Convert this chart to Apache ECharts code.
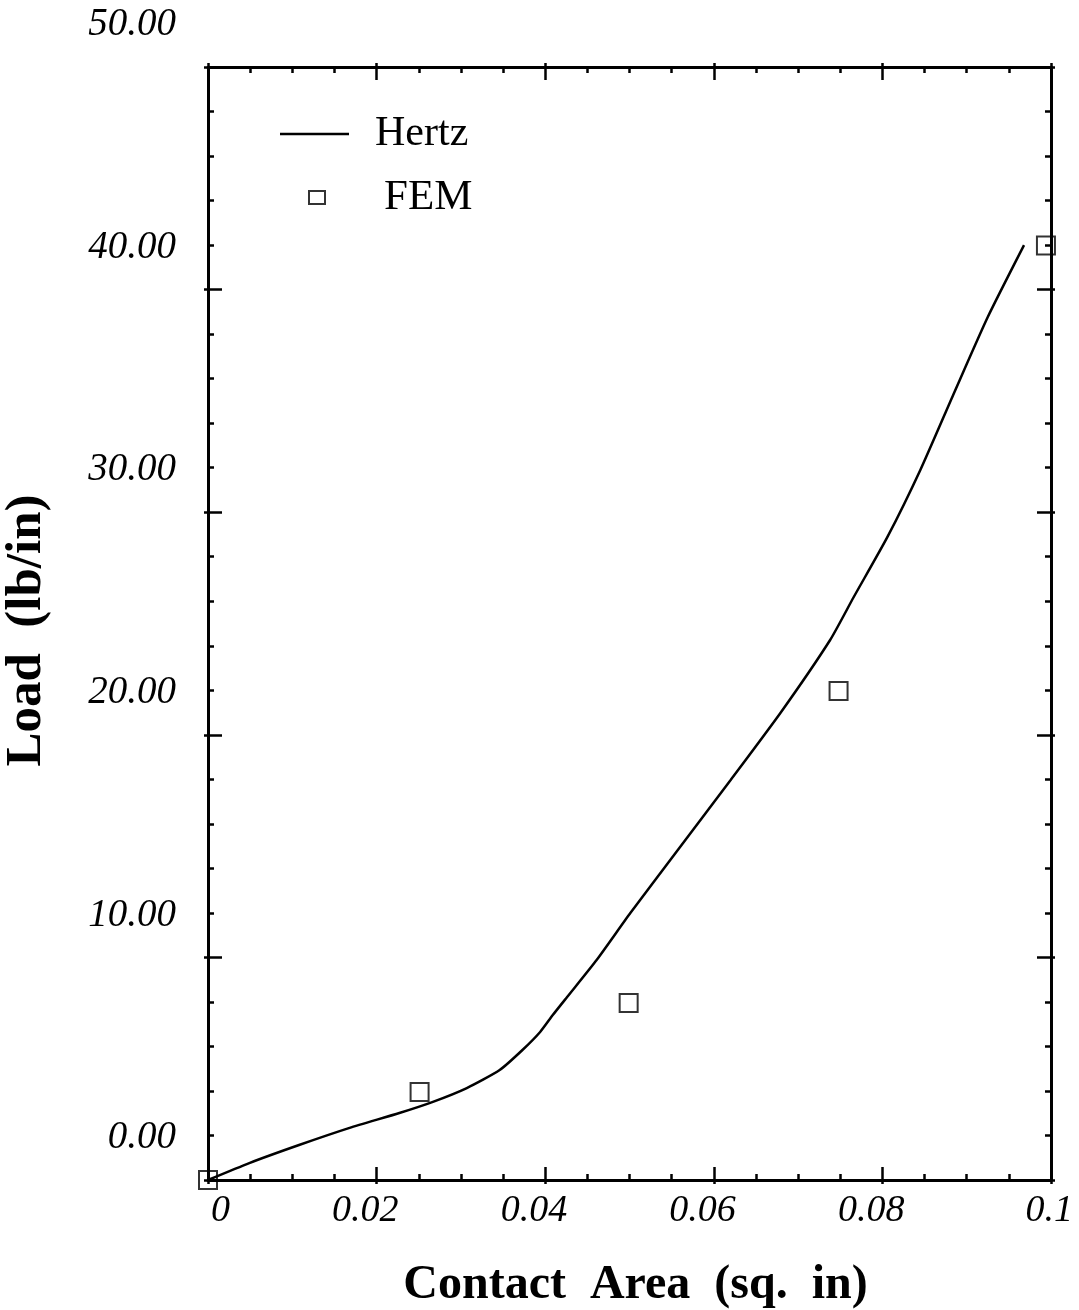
<!DOCTYPE html>
<html>
<head>
<meta charset="utf-8">
<script src="https://cdn.jsdelivr.net/npm/echarts@6/dist/echarts.min.js"></script>
<style>
  html, body { margin: 0; padding: 0; background: #fff; }
  #chart { width: 1079px; height: 1310px; }
</style>
</head>
<body>
<div id="chart"></div>
<script>
// Hertz contact theory curve: contact area (sq. in) vs load (lb/in)
const hertzArea = [0, 0.0049, 0.0108, 0.0168, 0.0227, 0.0266, 0.0307, 0.0346, 0.0373, 0.0394, 0.0409, 0.0426,
                   0.0461, 0.0501, 0.0560, 0.0620, 0.0679, 0.0738, 0.0766, 0.0806, 0.0845, 0.0885, 0.0925, 0.0968];
const hertzLoad = [0, 0.76, 1.57, 2.34, 3.01, 3.50, 4.13, 4.94, 5.84, 6.65, 7.41, 8.22,
                   9.88, 11.99, 14.96, 17.97, 20.98, 24.26, 26.19, 28.89, 31.90, 35.36, 38.77, 42.00];

// Finite element results
const femArea = [0, 0.0251, 0.0499, 0.0748, 0.0994];
const femLoad = [0, 3.95, 7.95, 21.97, 41.98];

// Axis tick labels
const xTickLabels = ['0', '0.02', '0.04', '0.06', '0.08', '0.1'];
const yTickLabels = ['0.00', '10.00', '20.00', '30.00', '40.00', '50.00'];

const SERIF = '"Liberation Serif", "Times New Roman", serif';
const INK = '#000';

const hertzData = hertzArea.map((a, i) => [a, hertzLoad[i]]);
const femData = femArea.map((a, i) => [a, femLoad[i]]);

const xRange = { type: 'value', min: 0, max: 0.1, interval: 0.02 };
const yRange = { type: 'value', min: 0, max: 50, interval: 10 };

// framed axis with inward ticks
function frameX(position, withLabels) {
  return Object.assign({}, xRange, {
    position,
    axisLine: { show: true, onZero: false, lineStyle: { color: INK, width: 3 } },
    axisTick: { show: true, inside: true, length: 13, lineStyle: { color: INK, width: 2.5 } },
    minorTick: { show: true, splitNumber: 4, length: 6, lineStyle: { color: INK, width: 2.5 } },
    splitLine: { show: false },
    axisLabel: withLabels ? {
      show: true,
      formatter: (v, i) => xTickLabels[i],
      fontFamily: SERIF, fontStyle: 'italic', fontSize: 38, color: INK,
      align: 'right', margin: 12,
      padding: [0, -22, 0, 0]
    } : { show: false }
  });
}
function frameY(position, withLabels) {
  return Object.assign({}, yRange, {
    position,
    axisLine: { show: true, onZero: false, lineStyle: { color: INK, width: 3 } },
    axisTick: { show: true, inside: true, length: 14, lineStyle: { color: INK, width: 2.5 } },
    minorTick: { show: true, splitNumber: 5, length: 6, lineStyle: { color: INK, width: 2.5 } },
    splitLine: { show: false },
    axisLabel: withLabels ? {
      show: true,
      formatter: (v, i) => '{t|' + yTickLabels[i] + '}',
      align: 'right', verticalAlign: 'middle', margin: 32,
      rich: {
        t: {
          fontFamily: SERIF, fontStyle: 'italic', fontSize: 39, color: INK,
          padding: [0, 0, 84, 0]
        }
      }
    } : { show: false }
  });
}
// short outward stubs of the major ticks
function stubX(position) {
  return Object.assign({}, xRange, {
    position,
    axisLine: { show: false, onZero: false },
    axisTick: { show: true, inside: false, length: 4, lineStyle: { color: INK, width: 2.5 } },
    axisLabel: { show: false }, splitLine: { show: false }
  });
}
function stubY(position) {
  return Object.assign({}, yRange, {
    position,
    axisLine: { show: false, onZero: false },
    axisTick: { show: true, inside: false, length: 4, lineStyle: { color: INK, width: 2.5 } },
    axisLabel: { show: false }, splitLine: { show: false }
  });
}

const xMain = frameX('bottom', true);
xMain.name = 'Contact  Area  (sq.  in)';
xMain.nameLocation = 'middle';
xMain.nameGap = 82;
xMain.nameTextStyle = { fontFamily: SERIF, fontWeight: 'bold', fontSize: 48, color: INK, padding: [0, 0, 0, 12] };

const yMain = frameY('left', true);
yMain.name = 'Load  (lb/in)';
yMain.nameLocation = 'middle';
yMain.nameGap = 156;
yMain.nameTextStyle = { fontFamily: SERIF, fontWeight: 'bold', fontSize: 51, color: INK, padding: [0, 14, 0, 0] };

const chart = echarts.init(document.getElementById('chart'), null, { renderer: 'canvas' });
chart.setOption({
  animation: false,
  backgroundColor: '#fff',
  grid: { left: 208, top: 67, width: 843, height: 1113, containLabel: false, outerBoundsMode: 'none' },
  xAxis: [xMain, frameX('top', false), stubX('bottom'), stubX('top')],
  yAxis: [yMain, frameY('right', false), stubY('left'), stubY('right')],
  legend: [
    {
      data: [{ name: 'Hertz', icon: 'rect' }], left: 275, top: 108, orient: 'vertical',
      itemWidth: 69, itemHeight: 2.5,
      itemStyle: { color: INK },
      textStyle: { fontFamily: SERIF, fontSize: 42, color: INK, padding: [0, 0, 0, 21] },
      selectedMode: false
    },
    {
      data: ['FEM'], left: 303, top: 171, orient: 'vertical',
      itemWidth: 16, itemHeight: 13, icon: 'rect',
      itemStyle: { color: 'rgba(0,0,0,0)', borderColor: INK, borderWidth: 2 },
      textStyle: { fontFamily: SERIF, fontSize: 43, color: INK, padding: [0, 0, 0, 54] },
      selectedMode: false
    }
  ],
  series: [
    {
      name: 'Hertz', type: 'line', xAxisIndex: 0, yAxisIndex: 0,
      data: hertzData, symbol: 'none', smooth: 0.2, color: INK,
      lineStyle: { color: INK, width: 2.5 }, clip: false
    },
    {
      name: 'FEM', type: 'scatter', xAxisIndex: 0, yAxisIndex: 0,
      data: femData, symbol: 'rect', symbolSize: 18,
      itemStyle: { color: 'rgba(0,0,0,0)', borderColor: INK, borderWidth: 2 },
      clip: false, z: 3
    }
  ]
});
</script>
</body>
</html>
